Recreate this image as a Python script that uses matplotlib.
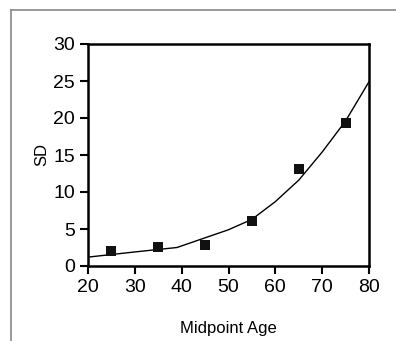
"""
SD against midpoint age: observed points with the fitted curve.
"""

import matplotlib
matplotlib.use("Agg")
import matplotlib.pyplot as plt
from matplotlib.lines import Line2D

plt.rcParams["font.family"] = ["Liberation Sans", "DejaVu Sans"]

# Observed SD per age band
midpoint_age = [25, 35, 45, 55, 65, 75]
sd_observed = [2.0, 2.6, 2.8, 6.1, 13.1, 19.3]

# Fitted curve
fit_age = [20, 30, 39, 50, 55, 60, 65, 70, 75, 80]
fit_sd = [1.2, 1.9, 2.5, 4.9, 6.3, 8.7, 11.6, 15.4, 19.6, 24.9]

x_ticks = [20, 30, 40, 50, 60, 70, 80]
y_ticks = [0, 5, 10, 15, 20, 25, 30]

fig = plt.figure(figsize=(3.96, 3.41), dpi=100)
ax = fig.add_axes([88 / 396, 75 / 341, 281 / 396, 222 / 341])

ax.plot(fit_age, fit_sd, color="black", lw=1.0)
ax.plot(midpoint_age, sd_observed, "s", color="#111111", ms=6.5, mew=0)

ax.set_xlim(20, 80)
ax.set_ylim(0, 30)
ax.set_xticks(x_ticks)
ax.set_yticks(y_ticks)
ax.tick_params(direction="out", length=5.5, width=1.5, labelsize=14, pad=4)
for s in ax.spines.values():
    s.set_linewidth(1.8)

ax.set_xlabel("Midpoint Age", fontsize=12, labelpad=18)
ax.set_ylabel("SD", fontsize=12, labelpad=3)

# gray frame along the top and left edge
fig.add_artist(Line2D([10.5 / 396, 1], [1 - 9.5 / 341, 1 - 9.5 / 341],
                      transform=fig.transFigure, color="#888888", lw=1.2))
fig.add_artist(Line2D([10.5 / 396, 10.5 / 396], [0, 1 - 9.5 / 341],
                      transform=fig.transFigure, color="#888888", lw=1.2))

plt.savefig("out.png", dpi=100)
